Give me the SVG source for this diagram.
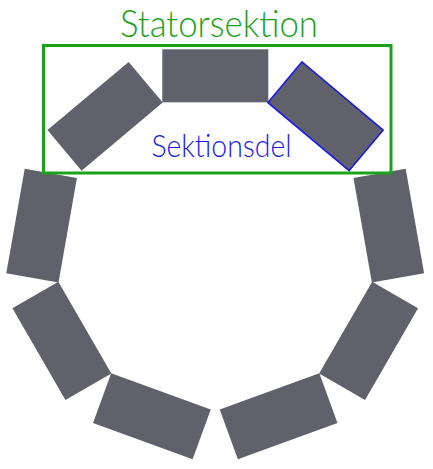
<svg xmlns="http://www.w3.org/2000/svg" width="433" height="469" viewBox="0 0 433 469">
<style>
.seg{fill:#60616b}
.sel{stroke:#1a1ae6;stroke-width:1.6}
.frame{fill:none;stroke:#1aa21a;stroke-width:3}
.lbl{font-family:Lato,"Liberation Sans",sans-serif;font-weight:300}
</style>
<defs>
<rect id="blk" x="-53" y="-26.5" width="106" height="53"/>
</defs>
<g id="segments">
<use id="seg-top" class="seg" href="#blk" transform="translate(215.3,75.8)"/>
<use id="seg-ur" class="seg sel" href="#blk" transform="translate(325.5,116.3) rotate(40)"/>
<use id="seg-ru" class="seg" href="#blk" transform="translate(388.8,225.6) rotate(80)"/>
<use id="seg-rl" class="seg" href="#blk" transform="translate(368.6,340.9) rotate(120)"/>
<use id="seg-br" class="seg" href="#blk" transform="translate(278.6,416.3) rotate(160)"/>
<use id="seg-bl" class="seg" href="#blk" transform="translate(151.9,416.3) rotate(200)"/>
<use id="seg-ll" class="seg" href="#blk" transform="translate(61.9,340.9) rotate(240)"/>
<use id="seg-lu" class="seg" href="#blk" transform="translate(41.6,225.6) rotate(280)"/>
<use id="seg-ul" class="seg" href="#blk" transform="translate(105.1,116.3) rotate(320)"/>
</g>
<g id="statorsektion">
<rect class="frame" x="43.5" y="45.5" width="347.5" height="127.5"/>
<text class="lbl" x="120" y="37" font-size="38" fill="#1aa21a" textLength="198" lengthAdjust="spacingAndGlyphs">Statorsektion</text>
</g>
<g id="sektionsdel">
<text class="lbl" x="151.5" y="156.5" font-size="32" fill="#1a1ae6" textLength="140" lengthAdjust="spacingAndGlyphs">Sektionsdel</text>
</g>
<g id="connectors"/>
</svg>
